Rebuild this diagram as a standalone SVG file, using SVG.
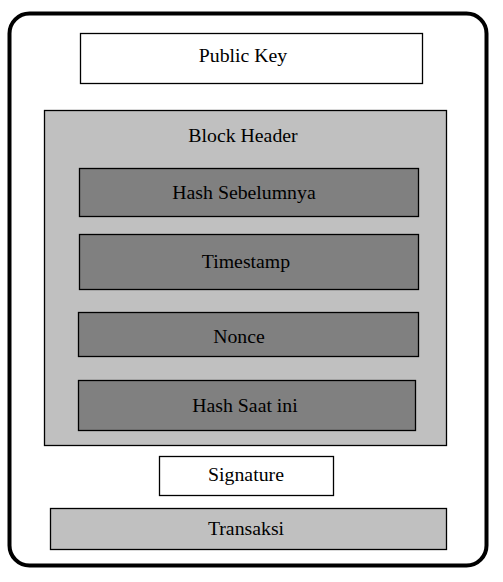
<svg xmlns="http://www.w3.org/2000/svg" width="503" height="582" viewBox="0 0 503 582">
<style>
.b{stroke:#000;stroke-width:1.3}
.w{fill:#fff}
.l{fill:#c0c0c0}
.d{fill:#808080}
text{font-family:"Liberation Serif","DejaVu Serif",serif;font-size:19.8px;fill:#000;text-anchor:middle}
</style>
<rect x="9.5" y="13.5" width="477" height="552" rx="20" fill="#fff" stroke="#000" stroke-width="4"/>
<g id="public-key"><rect class="b w" x="80.5" y="33.5" width="342" height="50"/><text x="243" y="62">Public Key</text></g>
<g id="block-header"><rect class="b l" x="44.5" y="110.5" width="402" height="335"/><text x="243" y="142">Block Header</text></g>
<g id="hash-sebelumnya"><rect class="b d" x="79.5" y="168.5" width="339" height="48"/><text x="244" y="199">Hash Sebelumnya</text></g>
<g id="timestamp"><rect class="b d" x="79.5" y="234.5" width="339" height="55"/><text x="246" y="268">Timestamp</text></g>
<g id="nonce"><rect class="b d" x="78.5" y="312.5" width="340" height="44"/><text x="239" y="343">Nonce</text></g>
<g id="hash-saat-ini"><rect class="b d" x="78.5" y="380.5" width="337" height="50"/><text x="245" y="412">Hash Saat ini</text></g>
<g id="signature"><rect class="b w" x="159.5" y="456.5" width="174" height="39"/><text x="246" y="481">Signature</text></g>
<g id="transaksi"><rect class="b l" x="50.5" y="508.5" width="396" height="41"/><text x="246" y="535">Transaksi</text></g>
<g id="connectors"></g>
</svg>
